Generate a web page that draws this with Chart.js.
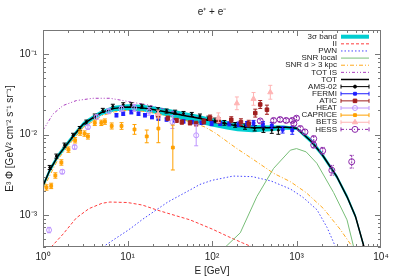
<!DOCTYPE html>
<html>
<head>
<meta charset="utf-8">
<script src="https://cdn.jsdelivr.net/npm/chart.js@4.4.0/dist/chart.umd.min.js"></script>
<style>
  html, body { margin: 0; padding: 0; background: #fff; }
  canvas { display: block; }
</style>
</head>
<body>
<canvas id="chart" width="399" height="279"></canvas>
<script>
// ---- data (E in GeV, E^3 flux) ----
var bandE = [1, 1.2, 1.5, 2, 2.5, 3, 4, 5, 7, 10, 15, 20, 30, 50, 70, 100, 150, 200, 300, 500, 700, 1000, 1500, 2000, 3000, 4000, 5000, 6300];
var bandHi = [2.5e-3, 3.9e-3, 5.8e-3, 8.6e-3, 1.16e-2, 1.45e-2, 1.77e-2, 2.03e-2, 2.28e-2, 2.38e-2, 2.35e-2, 2.25e-2, 2.1e-2, 1.88e-2, 1.75e-2, 1.6e-2, 1.47e-2, 1.39e-2, 1.32e-2, 1.3e-2, 1.3e-2, 1.25e-2, 8.9e-3, 6.1e-3, 3.2e-3, 1.78e-3, 1.02e-3, 4.3e-4];
var bandLo = [2.1e-3, 3.3e-3, 5.0e-3, 7.4e-3, 1.0e-2, 1.25e-2, 1.53e-2, 1.75e-2, 1.95e-2, 2.0e-2, 1.95e-2, 1.84e-2, 1.68e-2, 1.48e-2, 1.37e-2, 1.26e-2, 1.16e-2, 1.1e-2, 1.07e-2, 1.1e-2, 1.15e-2, 1.14e-2, 7.7e-3, 5.3e-3, 2.8e-3, 1.55e-3, 8.9e-4, 3.7e-4];
var totE = bandE;
var totV = [2.3e-3, 3.6e-3, 5.4e-3, 8.0e-3, 1.08e-2, 1.35e-2, 1.65e-2, 1.9e-2, 2.12e-2, 2.2e-2, 2.15e-2, 2.05e-2, 1.9e-2, 1.7e-2, 1.6e-2, 1.48e-2, 1.36e-2, 1.28e-2, 1.22e-2, 1.22e-2, 1.24e-2, 1.2e-2, 8.2e-3, 5.7e-3, 3.0e-3, 1.65e-3, 9.5e-4, 4e-4];

var iiE = [1.25, 1.73, 2.48, 3.5, 5, 6.2, 10, 15, 22, 30, 55, 100, 155, 230, 300];
var iiV = [4e-4, 5.8e-4, 9.2e-4, 1.2e-3, 1.4e-3, 1.45e-3, 1.43e-3, 1.33e-3, 1.16e-3, 1.05e-3, 8.7e-4, 6.7e-4, 5.4e-4, 4.5e-4, 4e-4];

var pwnE = [5.1, 7, 10, 11.7, 15, 22, 30, 55, 72, 100, 178, 300, 500, 850, 1200, 1750, 2300, 2900];
var pwnV = [4e-4, 5e-4, 6.4e-4, 7.2e-4, 8.8e-4, 1.16e-3, 1.45e-3, 2.05e-3, 2.4e-3, 2.7e-3, 3.05e-3, 3.0e-3, 2.65e-3, 2.1e-3, 1.65e-3, 1.16e-3, 7e-4, 4e-4];

var locE = [144, 216, 340, 536, 845, 1000, 1300, 1740, 2750, 3960, 4750];
var locV = [4e-4, 6e-4, 1.7e-3, 3.8e-3, 6.4e-3, 6.7e-3, 6.1e-3, 4.4e-3, 1.9e-3, 8.7e-4, 4e-4];

var farE = [1, 1.5, 2, 3, 5, 7, 10, 15, 20, 30, 57.6, 83, 109, 197, 300, 536, 845, 1300, 2090, 3300, 4600];
var farV = [2.1e-3, 4.9e-3, 7.3e-3, 1.23e-2, 1.72e-2, 1.92e-2, 2.0e-2, 1.95e-2, 1.86e-2, 1.7e-2, 1.43e-2, 1.24e-2, 1.05e-2, 6.7e-3, 5.0e-3, 3.3e-3, 2.6e-3, 1.9e-3, 1.2e-3, 6.6e-4, 4e-4];

var isE = [1, 1.31, 1.73, 2.48, 3.9, 6.2, 8.9, 12, 17, 25, 40, 70, 100];
var isV = [1.13e-2, 1.8e-2, 2.3e-2, 2.65e-2, 2.83e-2, 2.83e-2, 2.65e-2, 2.5e-2, 2.35e-2, 2.12e-2, 1.85e-2, 1.62e-2, 1.5e-2];

var amsE = [1.2, 1.44, 1.8, 2.27, 2.72, 3.26, 4.1, 5.1, 6.7, 8.9, 11.1, 14.8, 18.5, 23, 29, 36.6, 46, 57.6, 72, 90.7, 109, 140, 188, 246, 320, 406, 510, 610];
var amsV = [3.9e-3, 5.4e-3, 7.4e-3, 9.8e-3, 1.19e-2, 1.43e-2, 1.7e-2, 2.0e-2, 2.25e-2, 2.35e-2, 2.35e-2, 2.25e-2, 2.12e-2, 2.04e-2, 1.96e-2, 1.9e-2, 1.83e-2, 1.78e-2, 1.7e-2, 1.6e-2, 1.5e-2, 1.4e-2, 1.32e-2, 1.26e-2, 1.2e-2, 1.16e-2, 1.14e-2, 1.13e-2];
var amsErr = [0.06, 0.06, 0.06, 0.06, 0.06, 0.06, 0.06, 0.06, 0.06, 0.06, 0.06, 0.06, 0.06, 0.06, 0.06, 0.06, 0.06, 0.06, 0.06, 0.06, 0.07, 0.07, 0.07, 0.08, 0.08, 0.09, 0.1, 0.12];

var fermiE = [7.4, 8.9, 11.1, 13.5, 16.1, 19.5, 23.2, 29, 36.6, 46, 57.6, 75, 99, 125, 160, 206, 260, 310, 400, 510, 685, 890];
var fermiV = [1.74e-2, 1.82e-2, 1.9e-2, 1.82e-2, 1.74e-2, 1.65e-2, 1.58e-2, 1.54e-2, 1.5e-2, 1.46e-2, 1.43e-2, 1.4e-2, 1.37e-2, 1.37e-2, 1.36e-2, 1.34e-2, 1.36e-2, 1.39e-2, 1.35e-2, 1.3e-2, 1.15e-2, 1.13e-2];
var fermiErr = [0.05, 0.05, 0.05, 0.05, 0.05, 0.05, 0.05, 0.05, 0.05, 0.05, 0.05, 0.05, 0.06, 0.06, 0.06, 0.07, 0.07, 0.08, 0.08, 0.09, 0.1, 0.12];

var aticE = [23, 30, 38, 44, 55, 65, 80, 95, 120, 169, 220, 272, 325, 372, 447];
var aticV = [1.73e-2, 1.6e-2, 1.5e-2, 1.43e-2, 1.4e-2, 1.37e-2, 1.45e-2, 1.62e-2, 1.5e-2, 1.53e-2, 1.43e-2, 1.37e-2, 1.85e-2, 2.37e-2, 2.04e-2];
var aticErr = [0.06, 0.06, 0.06, 0.06, 0.06, 0.07, 0.07, 0.08, 0.08, 0.09, 0.1, 0.1, 0.12, 0.12, 0.14];

var heatE = [1.18, 1.69, 2.37, 3.4, 4.3, 6, 8.5, 12, 18, 34, 65];
var heatV = [6.5e-4, 3.45e-3, 7.0e-3, 1.24e-2, 1.65e-2, 1.95e-2, 2.1e-2, 2.15e-2, 1.95e-2, 1.43e-2, 9.8e-3];
var heatErr = [0.08, 0.06, 0.06, 0.06, 0.07, 0.07, 0.08, 0.1, 0.12, 0.2, 0.35];

var capE = [1.1, 1.25, 1.4, 1.65, 2.0, 2.4, 2.75, 3.1, 3.4, 4.1, 4.9, 5.4, 6.5, 8.5, 12.1, 16.9, 23.2, 34.4];
var capV = [2.2e-3, 2.3e-3, 3.1e-3, 4.5e-3, 6.5e-3, 8.5e-3, 1.06e-2, 1.03e-2, 9.5e-3, 1.4e-2, 1.4e-2, 1.45e-2, 1.28e-2, 1.28e-2, 1.16e-2, 9.5e-3, 1.19e-2, 6.9e-3];
var capErr = [0.08, 0.08, 0.08, 0.08, 0.08, 0.08, 0.08, 0.08, 0.08, 0.08, 0.08, 0.08, 0.09, 0.1, 0.15, 0.2, 0.5, 0.9];

var betsE = [23, 119, 197, 310, 490];
var betsV = [1.8e-2, 1.62e-2, 2.45e-2, 2.78e-2, 3.36e-2];
var betsErr = [0.12, 0.15, 0.2, 0.2, 0.22];

var hessE = [372, 536, 640, 755, 890, 930, 1000, 1110, 1260, 1600, 1600, 2040, 2620, 4500];
var hessV = [1.48e-2, 1.5e-2, 1.54e-2, 1.5e-2, 1.5e-2, 1.37e-2, 1.6e-2, 1.19e-2, 1.08e-2, 8.9e-3, 7.4e-3, 6.3e-3, 3.6e-3, 4.6e-3];
var hessErr = [0.06, 0.06, 0.06, 0.06, 0.06, 0.06, 0.06, 0.07, 0.07, 0.08, 0.08, 0.1, 0.15, 0.2];

var xTicks = [1, 10, 100, 1000, 10000];
var yTicks = [1e-3, 1e-2, 1e-1];

function pts(xs, ys) {
    return xs.map(function (x, i) { return {x: x, y: ys[i]}; });
}

var SUP = {'0': '⁰', '1': '¹', '2': '²', '3': '³', '4': '⁴', '-': '⁻'};
function powLabel(v) {
    var e = String(Math.round(Math.log10(v)));
    return '10' + e.split('').map(function (c) { return SUP[c]; }).join('');
}

var FONT = '"Liberation Sans", Arial, sans-serif';
var cBand = 'rgb(0,206,209)';
var datasets = [
    {label: 'band low', data: pts(bandE, bandLo), borderWidth: 0, pointRadius: 0, fill: false, borderColor: cBand},
    {label: '3σ band', data: pts(bandE, bandHi), borderWidth: 0, pointRadius: 0, fill: '-1', borderColor: cBand, backgroundColor: cBand},
    {label: 'II', data: pts(iiE, iiV), borderColor: 'rgb(255,60,60)', borderWidth: 1, borderDash: [3, 2], pointRadius: 0},
    {label: 'PWN', data: pts(pwnE, pwnV), borderColor: 'rgb(70,70,255)', borderWidth: 1, borderDash: [1.5, 2], pointRadius: 0},
    {label: 'SNR local', data: pts(locE, locV), borderColor: 'rgb(120,190,120)', borderWidth: 1, pointRadius: 0},
    {label: 'SNR d > 3 kpc', data: pts(farE, farV), borderColor: 'rgb(255,170,30)', borderWidth: 1, borderDash: [4, 2, 1, 2], pointRadius: 0},
    {label: 'TOT IS', data: pts(isE, isV), borderColor: 'rgb(170,60,190)', borderWidth: 1, borderDash: [3, 2, 1, 2, 1, 2], pointRadius: 0},
    {label: 'TOT', data: pts(totE, totV), borderColor: 'rgb(0,0,0)', borderWidth: 1.5, pointRadius: 0},
    {label: 'AMS-02', data: pts(amsE, amsV), errs: amsErr, showLine: false, pointStyle: 'circle', pointRadius: 1, borderColor: '#000', backgroundColor: '#000'},
    {label: 'FERMI', data: pts(fermiE, fermiV), errs: fermiErr, showLine: false, pointStyle: 'rect', pointRadius: 2, borderColor: 'rgb(30,30,255)', backgroundColor: 'rgb(30,30,255)'},
    {label: 'ATIC', data: pts(aticE, aticV), errs: aticErr, showLine: false, pointStyle: 'rect', pointRadius: 2.5, borderColor: 'rgb(160,30,30)', backgroundColor: 'rgb(160,30,30)'},
    {label: 'HEAT', data: pts(heatE, heatV), errs: heatErr, showLine: false, pointStyle: 'circle', pointRadius: 2.5, borderWidth: 1, borderColor: 'rgb(190,150,255)', backgroundColor: 'rgba(0,0,0,0)'},
    {label: 'CAPRICE', data: pts(capE, capV), errs: capErr, showLine: false, pointStyle: 'rect', pointRadius: 2, borderColor: 'rgb(255,160,0)', backgroundColor: 'rgb(255,160,0)'},
    {label: 'BETS', data: pts(betsE, betsV), errs: betsErr, showLine: false, pointStyle: 'triangle', pointRadius: 3, borderColor: 'rgb(255,180,180)', backgroundColor: 'rgb(255,180,180)'},
    {label: 'HESS', data: pts(hessE, hessV), errs: hessErr, errDash: [2, 1], showLine: false, pointStyle: 'circle', pointRadius: 3, borderWidth: 1, borderColor: 'rgb(140,40,170)', backgroundColor: 'rgba(0,0,0,0)'}
];
// later entries are drawn on top, like gnuplot
datasets.forEach(function (d, i) { d.order = datasets.length - i; d.tension = 0; });

// error bars drawn right before each data set
var errorBars = {
    id: 'errorBars',
    beforeDatasetDraw: function (chart, args) {
        var ds = chart.data.datasets[args.index];
        if (!ds.errs) return;
        var ctx = chart.ctx, a = chart.chartArea, x = chart.scales.x, y = chart.scales.y;
        ctx.save();
        ctx.beginPath(); ctx.rect(a.left, a.top, a.width, a.height); ctx.clip();
        ctx.strokeStyle = ds.borderColor;
        ctx.lineWidth = 1;
        if (ds.errDash) ctx.setLineDash(ds.errDash);
        ds.data.forEach(function (p, i) {
            var px = x.getPixelForValue(p.x);
            var y1 = y.getPixelForValue(p.y * (1 + ds.errs[i]));
            var y2 = y.getPixelForValue(p.y / (1 + ds.errs[i]));
            ctx.beginPath();
            ctx.moveTo(px, y1); ctx.lineTo(px, y2);
            ctx.moveTo(px - 2, y1); ctx.lineTo(px + 2, y1);
            ctx.moveTo(px - 2, y2); ctx.lineTo(px + 2, y2);
            ctx.stroke();
        });
        ctx.restore();
    }
};

// gnuplot style frame, inward ticks and key
var frame = {
    id: 'frame',
    afterDraw: function (chart) {
        var ctx = chart.ctx, a = chart.chartArea, x = chart.scales.x, y = chart.scales.y;
        ctx.save();
        ctx.strokeStyle = '#777';
        ctx.lineWidth = 1;
        ctx.strokeRect(a.left + 0.5, a.top + 0.5, a.width - 1, a.height - 1);
        ctx.beginPath();
        for (var d = 1; d < 10000; d *= 10) {
            for (var k = 1; k < 10; k++) {
                var px = Math.round(x.getPixelForValue(d * k)) + 0.5;
                var len = k === 1 ? 6 : 3;
                ctx.moveTo(px, a.bottom); ctx.lineTo(px, a.bottom - len);
                ctx.moveTo(px, a.top); ctx.lineTo(px, a.top + len);
            }
        }
        for (var e = 1e-4; e < 0.2; e *= 10) {
            for (var m = 1; m < 10; m++) {
                var v = e * m;
                if (v < 4e-4 || v > 0.2) continue;
                var py = Math.round(y.getPixelForValue(v)) + 0.5;
                var l2 = m === 1 ? 6 : 3;
                ctx.moveTo(a.left, py); ctx.lineTo(a.left + l2, py);
                ctx.moveTo(a.right, py); ctx.lineTo(a.right - l2, py);
            }
        }
        ctx.stroke();

        // key
        var rows = datasets.slice(1);
        var x0 = 341, x1 = 369, tx = 337;
        ctx.font = '8px ' + FONT;
        ctx.textAlign = 'right';
        ctx.textBaseline = 'middle';
        rows.forEach(function (ds, i) {
            var ry = 36.7 + i * 7.13;
            ctx.fillStyle = '#222';
            ctx.fillText(ds.label, tx, ry);
            ctx.setLineDash([]);
            if (i === 0) {
                ctx.fillStyle = cBand;
                ctx.fillRect(x0, ry - 2, x1 - x0, 4);
                return;
            }
            ctx.strokeStyle = ds.borderColor;
            ctx.lineWidth = ds.borderWidth && !ds.errs ? ds.borderWidth : 1;
            if (ds.borderDash) ctx.setLineDash(ds.borderDash);
            if (ds.errDash) ctx.setLineDash([3, 2, 1, 2]);
            ctx.beginPath(); ctx.moveTo(x0, ry); ctx.lineTo(x1, ry); ctx.stroke();
            if (ds.errs) {
                ctx.setLineDash([]);
                ctx.beginPath();
                ctx.moveTo(x0, ry - 2); ctx.lineTo(x0, ry + 2);
                ctx.moveTo(x1, ry - 2); ctx.lineTo(x1, ry + 2);
                ctx.stroke();
                ctx.fillStyle = ds.backgroundColor;
                Chart.helpers.drawPoint(ctx, {pointStyle: ds.pointStyle, radius: Math.max(ds.pointRadius, 1.5), rotation: 0, borderWidth: 1}, (x0 + x1) / 2, ry);
            }
        });
        ctx.restore();
    }
};

var ctx = document.getElementById('chart').getContext('2d');
var chart = new Chart(ctx, {
    type: 'scatter',
    data: {datasets: datasets},
    plugins: [errorBars, frame],
    options: {
        responsive: false,
        animation: false,
        devicePixelRatio: 1,
        showLine: true,
        layout: {padding: {left: 0, right: 18, top: 0, bottom: 0}},
        plugins: {
            legend: {display: false},
            tooltip: {enabled: false},
            title: {
                display: true,
                fullSize: false,
                text: 'e⁺ + e⁻',
                color: '#222',
                font: {family: FONT, size: 10, weight: 'normal'},
                padding: {top: 6, bottom: 12}
            }
        },
        scales: {
            x: {
                type: 'logarithmic',
                min: 1, max: 10000,
                grid: {display: false, drawTicks: false},
                border: {display: false},
                afterBuildTicks: function (s) { s.ticks = xTicks.map(function (v) { return {value: v}; }); },
                afterFit: function (s) { s.height = 32; },
                ticks: {
                    color: '#222', padding: 4, maxRotation: 0, autoSkip: false,
                    font: {family: FONT, size: 10},
                    callback: function (v) { return powLabel(v); }
                },
                title: {
                    display: true, text: 'E [GeV]', color: '#222', padding: {top: 0, bottom: 2},
                    font: {family: FONT, size: 10}
                }
            },
            y: {
                type: 'logarithmic',
                min: 4e-4, max: 0.2,
                grid: {display: false, drawTicks: false},
                border: {display: false},
                afterBuildTicks: function (s) { s.ticks = yTicks.map(function (v) { return {value: v}; }); },
                afterFit: function (s) { s.width = 43; },
                ticks: {
                    color: '#222', padding: 6, autoSkip: false,
                    font: {family: FONT, size: 10},
                    callback: function (v) { return powLabel(v); }
                },
                title: {
                    display: true, text: 'E³ Φ [GeV² cm⁻² s⁻¹ sr⁻¹]', color: '#222', padding: {top: 4, bottom: 0},
                    font: {family: FONT, size: 10}
                }
            }
        }
    }
});
</script>
</body>
</html>
